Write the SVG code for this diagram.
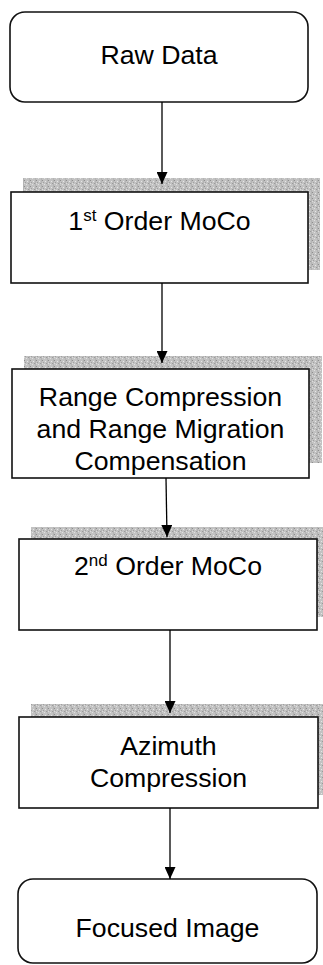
<svg xmlns="http://www.w3.org/2000/svg" width="323" height="965" viewBox="0 0 323 965">
<defs>
<pattern id="stip" width="6" height="6" patternUnits="userSpaceOnUse">
<rect width="6" height="6" fill="#c2c2c2"/>
<rect x="0" y="0" width="1" height="1" fill="#8e8e8e"/>
<rect x="3" y="1" width="1" height="1" fill="#e6e6e6"/>
<rect x="1" y="2" width="1" height="1" fill="#a0a0a0"/>
<rect x="4" y="3" width="1" height="1" fill="#9a9a9a"/>
<rect x="2" y="4" width="1" height="1" fill="#e0e0e0"/>
<rect x="5" y="5" width="1" height="1" fill="#a8a8a8"/>
<rect x="5" y="0" width="1" height="6" fill="#b4b4b4"/>
<rect x="0" y="3" width="1" height="1" fill="#dcdcdc"/>
</pattern>
<marker id="ah" markerWidth="12" markerHeight="11" refX="12" refY="5.5" orient="auto" markerUnits="userSpaceOnUse">
<path d="M0,0 L12,5.5 L0,11 Z" fill="#000"/>
</marker>
</defs>
<style>
.box{fill:#fff;stroke:#111;stroke-width:1.6}
.sh{fill:url(#stip)}
.t{font-family:"Liberation Sans",Arial,sans-serif;font-size:26.7px;fill:#000;text-anchor:middle}
.c{stroke:#000;stroke-width:1.3;fill:none;marker-end:url(#ah)}
</style>
<g id="raw-data">
<rect class="box" x="10" y="12" width="298" height="90" rx="15"/>
<text class="t" x="159" y="64">Raw Data</text>
</g>
<g id="first-order-moco">
<rect class="sh" x="23" y="178" width="297" height="92"/>
<rect class="box" x="11" y="192" width="297" height="91"/>
<text class="t" x="159.5" y="230">1<tspan font-size="17" dy="-9">st</tspan><tspan dy="9"> Order MoCo</tspan></text>
</g>
<g id="range-compression">
<rect class="sh" x="24" y="356" width="298" height="107"/>
<rect class="box" x="12" y="369" width="297" height="109"/>
<text class="t" x="160.5" y="406">Range Compression</text>
<text class="t" x="160.5" y="438">and Range Migration</text>
<text class="t" x="160.5" y="470">Compensation</text>
</g>
<g id="second-order-moco">
<rect class="sh" x="31" y="527" width="298" height="90"/>
<rect class="box" x="19" y="539" width="298" height="91"/>
<text class="t" x="168" y="575">2<tspan font-size="17" dy="-9">nd</tspan><tspan dy="9"> Order MoCo</tspan></text>
</g>
<g id="azimuth-compression">
<rect class="sh" x="31" y="704" width="298" height="91"/>
<rect class="box" x="19" y="717" width="299" height="91"/>
<text class="t" x="168.5" y="755">Azimuth</text>
<text class="t" x="168.5" y="787">Compression</text>
</g>
<g id="focused-image">
<rect class="box" x="18" y="879" width="299" height="84" rx="15"/>
<text class="t" x="167.5" y="937">Focused Image</text>
</g>
<g id="connectors">
<line class="c" x1="162" y1="102" x2="162" y2="184"/>
<line class="c" x1="162" y1="283" x2="162" y2="363"/>
<line class="c" x1="166" y1="478" x2="167" y2="537"/>
<line class="c" x1="170" y1="630" x2="170" y2="713"/>
<line class="c" x1="170" y1="808" x2="170" y2="879"/>
</g>
</svg>
